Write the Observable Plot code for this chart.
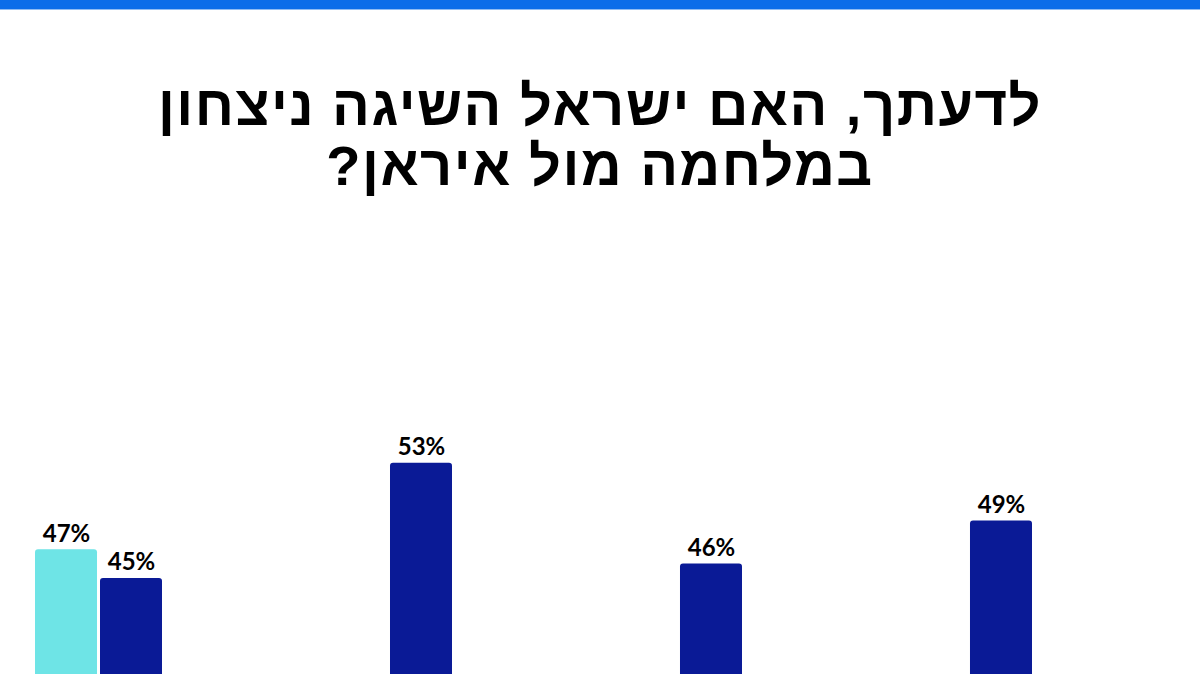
<!DOCTYPE html>
<html lang="he">
<head>
<meta charset="utf-8">
<script src="https://cdn.jsdelivr.net/npm/d3@7"></script>
<script src="https://cdn.jsdelivr.net/npm/@observablehq/plot@0.6"></script>
<style>
  html, body { margin: 0; padding: 0; background: #fff; width: 1200px; height: 674px; overflow: hidden; }
  #topbar { position: absolute; left: 0; top: 0; width: 1200px; height: 9px; background: #0b6de9; border-bottom: 1px solid #8fbcf3; }
  #title { position: absolute; left: 0; top: 76px; width: 1200px; text-align: center; direction: rtl;
           font-family: "Liberation Sans Narrow", "Liberation Sans", Arial, sans-serif; font-weight: 700;
           font-size: 56px; line-height: 60px; letter-spacing: 1.5px; color: #000; margin: 0; }
  #chart { position: absolute; left: 0; top: 400px; }
</style>
</head>
<body>
<div id="topbar"></div>
<h1 id="title">לדעתך, האם ישראל השיגה ניצחון<br>במלחמה מול איראן?</h1>
<div id="chart"></div>
<script>
const groups = ["קבוצה 1", "קבוצה 2", "קבוצה 3", "קבוצה 4"];
const series = ["סדרה א", "סדרה ב"];
const seriesA = [47, null, null, null];
const seriesB = [45, 53, 46, 49];
const colors = ["#6ee4e6", "#0a1a96"];

const data = [];
groups.forEach((g, i) => {
  data.push({group: g, series: series[0], value: seriesA[i]});
  data.push({group: g, series: series[1], value: seriesB[i]});
});
const shown = data.filter(d => d.value != null);

const chart = Plot.plot({
  width: 1200,
  height: 274,
  marginTop: 0,
  marginBottom: 0,
  marginLeft: 35,
  marginRight: 168,
  fx: {domain: groups, paddingInner: 0.562, paddingOuter: 0, round: false, axis: null},
  x: {domain: series, paddingInner: 0.046, paddingOuter: 0, round: false, axis: null},
  y: {domain: [38.333, 57.361], axis: null},
  color: {domain: series, range: colors},
  style: {background: "transparent"},
  marks: [
    Plot.barY(shown, {fx: "group", x: "series", y: "value", fill: "series", rx: 3, clip: true}),
    Plot.text(shown, {fx: "group", x: "series", y: "value", text: d => d.value + "%", dy: -8, lineAnchor: "bottom",
      fontSize: 24, fontWeight: 700, fill: "#000", fontFamily: "Lato, sans-serif"})
  ]
});
document.getElementById("chart").appendChild(chart);
</script>
</body>
</html>
